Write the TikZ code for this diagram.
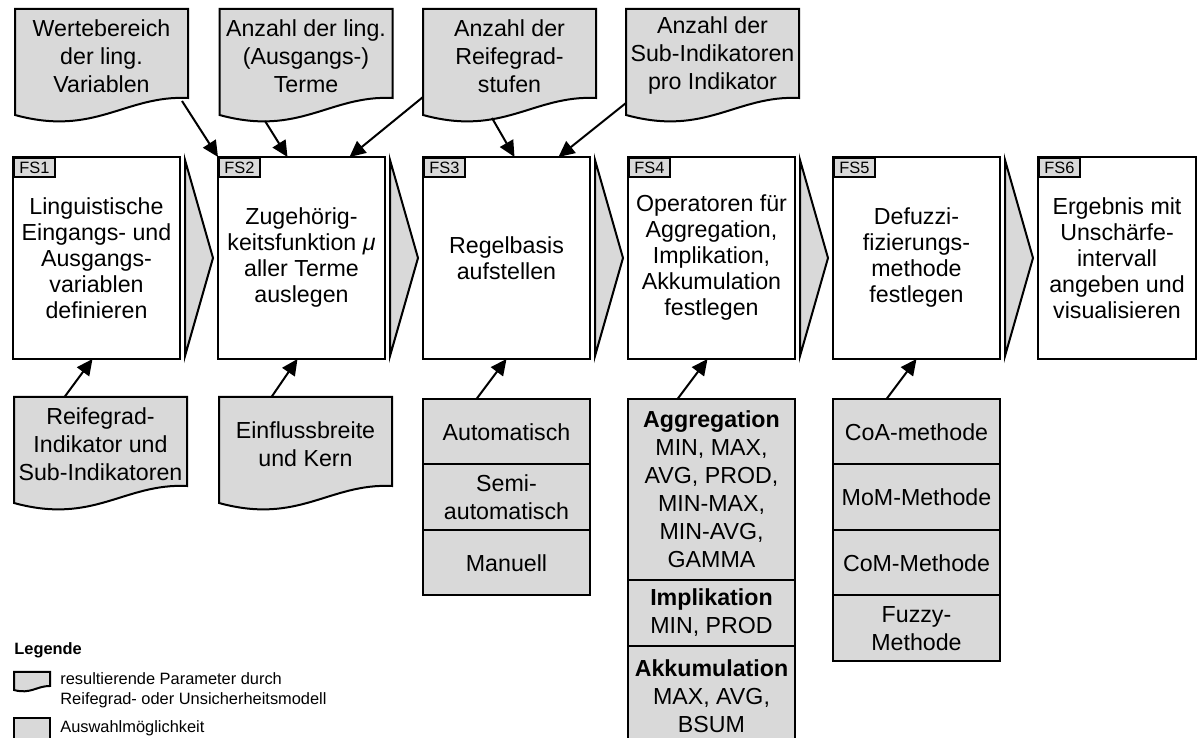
\documentclass[tikz,border=0pt]{standalone}
\usepackage{fontspec}
\setmainfont{Liberation Sans}
\usetikzlibrary{arrows.meta, positioning, backgrounds}

\begin{document}
\begin{tikzpicture}[
    x=0.5pt, y=0.5pt,
    node distance=19pt,
    fsbox/.style={draw, line width=1pt, fill=white, minimum width=83.5pt, minimum height=101pt,
        inner sep=0pt, outer sep=0pt, align=center, font=\fontsize{11.6}{13}\selectfont},
    tag/.style={draw, line width=1pt, fill=black!15, anchor=north west, minimum width=20.5pt,
        minimum height=9.5pt, inner sep=0pt, font=\fontsize{8.2}{8}\selectfont},
    chev/.style={draw, line width=1pt, fill=black!15},
    doc/.style={minimum width=86.5pt, minimum height=47pt, inner sep=0pt, outer sep=0pt,
        align=center, font=\fontsize{11.6}{14}\selectfont},
    docline/.style={draw, line width=1pt, fill=black!15},
    opt/.style={draw, line width=1pt, fill=black!15, minimum width=83.5pt, minimum height=32.75pt,
        inner sep=0pt, outer sep=0pt, align=center, font=\fontsize{11.6}{14}\selectfont},
    arrow/.style={-{Triangle[length=8pt, width=7.5pt]}, line width=1pt},
    legtext/.style={anchor=west, inner sep=0pt, align=left, font=\fontsize{8.2}{10}\selectfont}
]
\path[use as bounding box] (0,0) rectangle (1200,738);

% Fuzzy-Schritte
\node[fsbox] (fs1) at (96.5,480) {Linguistische\\Eingangs- und\\Ausgangs-\\variablen\\definieren};
\node[fsbox, right=of fs1] (fs2) {Zugehörig-\\keitsfunktion \textit{μ}\\aller Terme\\auslegen};
\node[fsbox, right=of fs2] (fs3) {Regelbasis\\aufstellen};
\node[fsbox, right=of fs3] (fs4) {Operatoren für\\Aggregation,\\Implikation,\\Akkumulation\\festlegen};
\node[fsbox, right=of fs4] (fs5) {Defuzzi-\\fizierungs-\\methode\\festlegen};
\node[fsbox, right=of fs5, minimum width=79pt] (fs6) {Ergebnis mit\\Unschärfe-\\intervall\\angeben und\\visualisieren};

\foreach \i in {1,...,6}
    \node[tag] (tag\i) at (fs\i.north west) {FS\i};
\foreach \i in {1,...,5}
    \draw[chev] ([xshift=2.5pt,yshift=-1.5pt]fs\i.north east) -- ([xshift=16.5pt]fs\i.east)
        -- ([xshift=2.5pt,yshift=1.5pt]fs\i.south east) -- cycle;

% Parameter
\node[doc, above=27pt of fs1, xshift=2.5pt] (wert) {Wertebereich\\der ling.\\Variablen};
\node[doc, above=27pt of fs2, xshift=2.25pt] (term) {Anzahl der ling.\\(Ausgangs-)\\Terme};
\node[doc, above=27pt of fs3, xshift=1.5pt] (stufe) {Anzahl der\\Reifegrad-\\stufen};
\node[doc, above=27pt of fs4, xshift=0.5pt] (subind) {Anzahl der\\Sub-Indikatoren\\pro Indikator};
\node[doc, below=19pt of fs1, xshift=2pt] (indik) {Reifegrad-\\Indikator und\\Sub-Indikatoren};
\node[doc, below=19pt of fs2, xshift=2pt] (breite) {Einflussbreite\\und Kern};

\begin{scope}[on background layer]
\foreach \d in {wert, term, stufe, subind, indik, breite}
    \draw[docline] (\d.north west) -- (\d.north east) -- ([yshift=2.5pt]\d.south east)
        .. controls ([shift={(-31.5pt,4pt)}]\d.south east) and ([shift={(40pt,-17pt)}]\d.south west)
        .. ([yshift=-6pt]\d.south west) -- cycle;
\end{scope}

% Auswahlmoeglichkeiten
\node[opt, below=20pt of fs3] (o31) {Automatisch};
\node[opt, below=0pt of o31] (o32) {Semi-\\automatisch};
\node[opt, below=0pt of o32] (o33) {Manuell};

\node[opt, below=20pt of fs4, minimum height=90.5pt] (o41) {\textbf{Aggregation}\\MIN, MAX,\\AVG, PROD,\\MIN-MAX,\\MIN-AVG,\\GAMMA};
\node[opt, below=0pt of o41, minimum height=33pt] (o42) {\textbf{Implikation}\\MIN, PROD};
\node[opt, below=0pt of o42, minimum height=50pt] (o43) {\textbf{Akkumulation}\\MAX, AVG,\\BSUM};

\node[opt, below=20pt of fs5] (o51) {CoA-methode};
\node[opt, below=0pt of o51] (o52) {MoM-Methode};
\node[opt, below=0pt of o52] (o53) {CoM-Methode};
\node[opt, below=0pt of o53] (o54) {Fuzzy-\\Methode};

% Pfeile
\draw[arrow] ([xshift=-3pt,yshift=1pt]wert.south east) -- (fs2.north west);
\draw[arrow] ([xshift=-20.5pt,yshift=-9pt]term.south) -- ([xshift=-7pt]fs2.north);
\draw[arrow] ([yshift=3pt]stufe.south west) -- ([xshift=24pt]fs2.north);
\draw[arrow] ([xshift=-8.75pt,yshift=-7.5pt]stufe.south) -- ([xshift=4pt]fs3.north);
\draw[arrow] (subind.south west) -- ([xshift=26pt]fs3.north);
\draw[arrow] ([xshift=-18pt]indik.north) -- ([xshift=-2pt]fs1.south);
\draw[arrow] ([xshift=-17pt]breite.north) -- ([xshift=-2pt]fs2.south);
\draw[arrow] ([xshift=-15pt]o31.north) -- (fs3.south);
\draw[arrow] ([xshift=-17pt]o41.north) -- ([xshift=-2pt]fs4.south);
\draw[arrow] ([xshift=-15pt]o51.north) -- (fs5.south);

% Legende
\node[anchor=west, inner sep=0pt, font=\bfseries\fontsize{8.2}{10}\selectfont] (leg) at (14,88) {Legende};
\draw[docline] (14,66) -- (50,66) -- (50,52) .. controls (36.9,52.2) and (30.6,43.4) .. (14,48) -- cycle;
\node[legtext] (legdoc) at (60,48) {resultierende Parameter durch\\Reifegrad- oder Unsicherheitsmodell};
\draw[docline] (14,20) rectangle (50,-12);
\node[legtext] (legopt) at (60,10) {Auswahlmöglichkeit};
\end{tikzpicture}
\end{document}
